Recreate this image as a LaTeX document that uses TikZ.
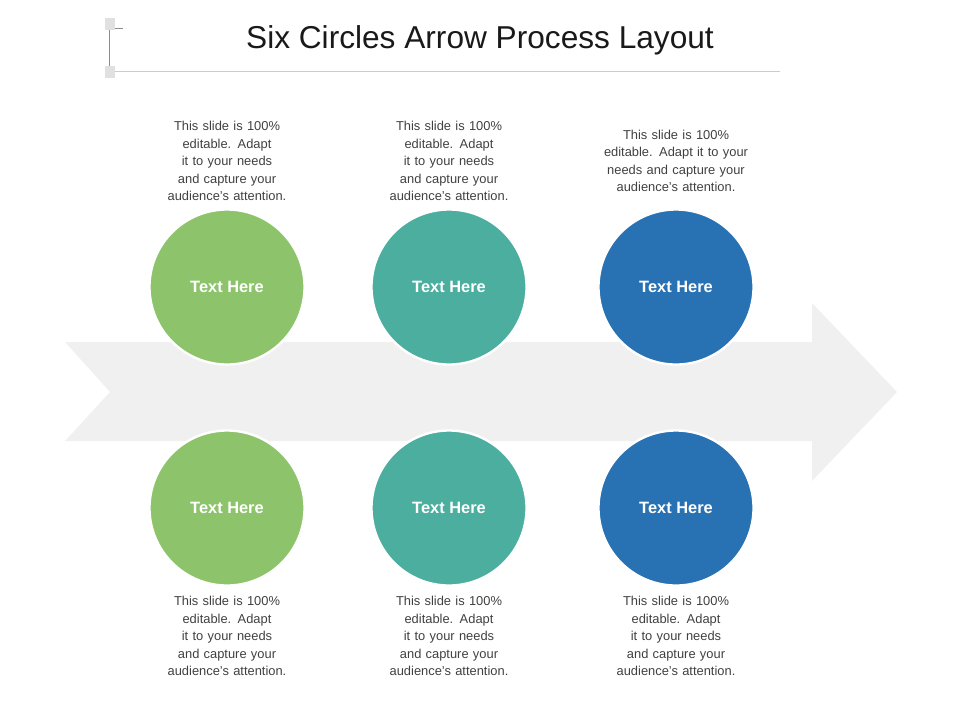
\documentclass[tikz,border=0pt]{standalone}
\usepackage{fontspec}
\setmainfont{Liberation Sans}
\begin{document}
\begin{tikzpicture}
  [x=0.03cm,y=-0.03cm,
   every node/.style={font=\fontsize{11}{15}\selectfont, text=black!75, align=center, text width=4cm},
   step circle/.style={circle, draw=white, line width=2pt, minimum size=4.65cm, inner sep=0pt, text width=, text=white, font=\bfseries\fontsize{14}{16}\selectfont}]
  \useasboundingbox (0,0) rectangle (960,720);

  % title
  \node[font=\fontsize{27}{30}\selectfont, text width=, text=black!90] (title) at (480,40) {Six Circles Arrow Process Layout};
  \draw[black!45, line width=0.5pt] (123,28) -- (109,28) -- (109,68);
  \draw[black!20, line width=0.6pt] (109,71) -- (780,71);
  \fill[black!12] (105,18) rectangle (115,30);
  \fill[black!12] (105,66) rectangle (115,78);

  % arrow
  \fill[black!6] (65,342) -- (812,342) -- (812,303) -- (897,392) -- (812,481) -- (812,441) -- (65,441) -- (110,392) -- cycle;

  % circles
  \node[step circle, fill={rgb,255:red,141;green,196;blue,107}] (c1) at (227,287) {Text Here};
  \node[step circle, fill={rgb,255:red,75;green,174;blue,159}] (c2) at (449,287) {Text Here};
  \node[step circle, fill={rgb,255:red,40;green,114;blue,180}] (c3) at (676,287) {Text Here};
  \node[step circle, fill={rgb,255:red,141;green,196;blue,107}] (c4) at (227,508) {Text Here};
  \node[step circle, fill={rgb,255:red,75;green,174;blue,159}] (c5) at (449,508) {Text Here};
  \node[step circle, fill={rgb,255:red,40;green,114;blue,180}] (c6) at (676,508) {Text Here};

  % descriptions
  \node (t1) at (227,161) {This slide is 100\% editable. Adapt it to your needs and capture your audience's attention.};
  \node (t2) at (449,161) {This slide is 100\% editable. Adapt it to your needs and capture your audience's attention.};
  \node[text width=4.6cm] (t3) at (676,161) {This slide is 100\% editable. Adapt it to your needs and capture your audience's attention.};
  \node (t4) at (227,636) {This slide is 100\% editable. Adapt it to your needs and capture your audience's attention.};
  \node (t5) at (449,636) {This slide is 100\% editable. Adapt it to your needs and capture your audience's attention.};
  \node (t6) at (676,636) {This slide is 100\% editable. Adapt it to your needs and capture your audience's attention.};
\end{tikzpicture}
\end{document}
